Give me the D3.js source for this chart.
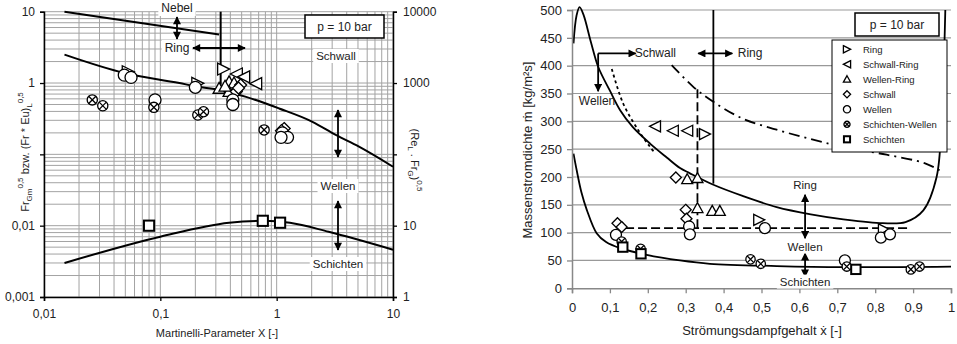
<!DOCTYPE html>
<html>
<head>
<meta charset="utf-8">
<script src="https://cdn.jsdelivr.net/npm/d3@7"></script>
<style>
  body { margin: 0; background: #fff; }
  svg { display: block; font-family: "Liberation Sans", Arial, sans-serif; }
</style>
</head>
<body>
<svg id="vis" width="957" height="344"></svg>
<script>
// ---------- left panel: Martinelli-Parameter X vs. Fr ----------
var leftRing = [[0.053, 1.44], [0.21, 0.99], [0.35, 1.57]];
var leftSchwallRing = [[0.45, 1.34], [0.52, 1.22], [0.66, 0.98]];
var leftWellenRing = [[0.32, 0.84], [0.39, 1.04], [0.43, 1.0], [0.39, 0.76], [0.36, 0.9]];
var leftSchwall = [[0.49, 0.94], [0.45, 0.76], [0.47, 0.85], [1.16, 0.23], [1.1, 0.215]];
var leftWellen = [[0.049, 1.29], [0.056, 1.2], [0.09, 0.58], [0.2, 0.87], [0.42, 0.58], [0.42, 0.5],
  [1.12, 0.2], [1.24, 0.173], [1.09, 0.173]];
var leftSchichtenWellen = [[0.026, 0.58], [0.032, 0.48], [0.088, 0.456], [0.21, 0.356], [0.235, 0.396], [0.78, 0.22]];
var leftSchichten = [[0.08, 0.01], [0.76, 0.0117], [1.07, 0.011]];

var leftNebelLine = [[0.015, 10], [0.32, 4.8]];
var leftRingLine = [[0.33, 10], [0.33, 0.79]];
var leftUpperCurve = [[0.015, 2.5], [0.05, 1.37], [0.146, 1.0], [0.2, 0.9], [0.324, 0.8], [0.546, 0.64],
  [1.05, 0.44], [2.03, 0.286], [3.22, 0.187], [5.1, 0.128], [10, 0.067]];
var leftLowerCurve = [[0.015, 0.003], [0.1, 0.007], [0.39, 0.011], [0.77, 0.0117], [1.3, 0.011],
  [2.8, 0.0082], [10, 0.0046]];

var leftXTicks = [0.01, 0.1, 1, 10];
var leftYTicks = [0.001, 0.01, 0.1, 1, 10];
var leftY2Ticks = [1, 10, 100, 1000, 10000];

// ---------- right panel: Strömungsdampfgehalt vs. Massenstromdichte ----------
var rightRing = [[0.351, 277], [0.494, 123], [0.823, 106]];
var rightSchwallRing = [[0.219, 291], [0.266, 283], [0.304, 283]];
var rightWellenRing = [[0.304, 196], [0.331, 198], [0.331, 144], [0.37, 139], [0.39, 139]];
var rightSchwall = [[0.274, 199], [0.3, 141], [0.302, 125], [0.12, 117], [0.131, 110]];
var rightWellen = [[0.116, 96], [0.309, 111], [0.311, 97], [0.509, 108], [0.72, 50], [0.815, 91], [0.839, 97]];
var rightSchichtenWellen = [[0.131, 84], [0.181, 71], [0.471, 52], [0.498, 44], [0.725, 39], [0.894, 34], [0.917, 39]];
var rightSchichten = [[0.134, 74], [0.182, 62], [0.749, 34]];

var rightUpperCurve = [[0.004, 440], [0.012, 490], [0.02, 505], [0.03, 492], [0.05, 442], [0.069, 398],
  [0.1, 355], [0.127, 320], [0.16, 290], [0.206, 260], [0.25, 235], [0.285, 216], [0.31, 207],
  [0.373, 186], [0.45, 166], [0.54, 146], [0.63, 133], [0.716, 124], [0.82, 117], [0.88, 119],
  [0.927, 140], [0.962, 200], [0.975, 300], [0.985, 500]];
var rightLowerCurve = [[0.004, 242], [0.0124, 212], [0.025, 172], [0.039, 141], [0.065, 99], [0.09, 83],
  [0.127, 72], [0.197, 60], [0.285, 50], [0.364, 44], [0.54, 40], [0.716, 38], [1, 39]];
var rightDotted = [[0.105, 394], [0.135, 332], [0.175, 284], [0.206, 254], [0.22, 242]];
var rightDashDot = [[0.263, 401], [0.32, 362], [0.373, 335], [0.45, 305], [0.54, 285], [0.63, 268],
  [0.716, 254], [0.83, 240], [0.93, 225], [0.97, 212]];
var rightDashedH = [[0.14, 108], [0.89, 108]];
var rightDashedV = [[0.331, 108], [0.331, 362]];
var rightSolidV = [[0.373, 500], [0.373, 188]];

var rightXTicks = d3.range(0, 1.01, 0.1);
var rightYTicks = d3.range(0, 501, 50);

var legendNames = ['Ring', 'Schwall-Ring', 'Wellen-Ring', 'Schwall', 'Wellen', 'Schichten-Wellen', 'Schichten'];
var legendTypes = ['triRight', 'triLeft', 'triUp', 'diamond', 'circle', 'otimes', 'square'];

var svg = d3.select('#vis');

var defs = svg.append('defs');
defs.append('marker')
  .attr('id', 'arrow')
  .attr('viewBox', '0 0 10 10')
  .attr('refX', 9).attr('refY', 5)
  .attr('markerWidth', 9).attr('markerHeight', 8)
  .attr('markerUnits', 'userSpaceOnUse')
  .attr('orient', 'auto-start-reverse')
  .append('path').attr('d', 'M0,0L10,5L0,10z').attr('fill', '#000');

var fmt = function (d) { return String(d).replace('.', ','); };

// draw one marker symbol
function drawMarker(g, type, x, y, h) {
  var m = g.append('g').attr('transform', 'translate(' + x + ',' + y + ')')
    .attr('fill', '#fff').attr('stroke', '#000').attr('stroke-width', 1.3);
  if (type == 'triRight') {
    m.append('path').attr('d', 'M' + (-h) + ',' + (-h) + 'L' + h + ',0L' + (-h) + ',' + h + 'Z');
  } else if (type == 'triLeft') {
    m.append('path').attr('d', 'M' + h + ',' + (-h) + 'L' + (-h) + ',0L' + h + ',' + h + 'Z');
  } else if (type == 'triUp') {
    m.append('path').attr('d', 'M0,' + (-h) + 'L' + h + ',' + (h * 0.8) + 'L' + (-h) + ',' + (h * 0.8) + 'Z');
  } else if (type == 'diamond') {
    m.append('path').attr('d', 'M0,' + (-h) + 'L' + h + ',0L0,' + h + 'L' + (-h) + ',0Z');
  } else if (type == 'circle') {
    m.append('circle').attr('r', h);
  } else if (type == 'otimes') {
    var r = h * 0.85, k = r * 0.7071;
    m.append('circle').attr('r', r);
    m.append('path').attr('d', 'M' + (-k) + ',' + (-k) + 'L' + k + ',' + k + 'M' + k + ',' + (-k) + 'L' + (-k) + ',' + k);
  } else if (type == 'square') {
    var q = h * 0.85;
    m.append('rect').attr('x', -q).attr('y', -q).attr('width', 2 * q).attr('height', 2 * q)
      .attr('stroke-width', 2);
  }
}

// text with a white box behind it
function label(g, x, y, txt, size) {
  var gg = g.append('g');
  var t = gg.append('text').attr('x', x).attr('y', y).attr('text-anchor', 'middle')
    .attr('dominant-baseline', 'central').attr('font-size', size).attr('fill', '#222').text(txt);
  var b = t.node().getBBox();
  gg.insert('rect', 'text').attr('x', b.x - 3).attr('y', b.y - 1)
    .attr('width', b.width + 6).attr('height', b.height + 2).attr('fill', '#fff');
}

function arrow(g, x1, y1, x2, y2, both) {
  var l = g.append('line').attr('x1', x1).attr('y1', y1).attr('x2', x2).attr('y2', y2)
    .attr('stroke', '#000').attr('stroke-width', 1.8).attr('marker-end', 'url(#arrow)');
  if (both) l.attr('marker-start', 'url(#arrow)');
}

function pBox(g, x, y, w, h) {
  g.append('rect').attr('x', x).attr('y', y).attr('width', w).attr('height', h)
    .attr('fill', '#fff').attr('stroke', '#000').attr('stroke-width', 1.5);
  g.append('text').attr('x', x + w / 2).attr('y', y + h / 2).attr('text-anchor', 'middle')
    .attr('dominant-baseline', 'central').attr('font-size', 12).attr('fill', '#222').text('p = 10 bar');
}

// ================= LEFT PANEL =================
var gl = svg.append('g');
var xL = d3.scaleLog().domain([0.01, 10]).range([44, 393]);
var yL = d3.scaleLog().domain([0.001, 10]).range([297, 11.7]);
var yL2 = d3.scaleLog().domain([1, 10000]).range([297, 11.7]);

gl.append('g').selectAll('line.v').data(xL.ticks()).enter().append('line')
  .attr('x1', d => xL(d)).attr('x2', d => xL(d)).attr('y1', yL(0.001)).attr('y2', yL(10))
  .attr('stroke', '#a3a3a3').attr('stroke-width', 1);
gl.append('g').selectAll('line.h').data(yL.ticks()).enter().append('line')
  .attr('x1', xL(0.01)).attr('x2', xL(10)).attr('y1', d => yL(d)).attr('y2', d => yL(d))
  .attr('stroke', '#a3a3a3').attr('stroke-width', 1);

var lineL = d3.line().x(d => xL(d[0])).y(d => yL(d[1])).curve(d3.curveMonotoneX);
var straightL = d3.line().x(d => xL(d[0])).y(d => yL(d[1]));
[leftUpperCurve, leftLowerCurve].forEach(function (c) {
  gl.append('path').attr('d', lineL(c)).attr('fill', 'none').attr('stroke', '#000').attr('stroke-width', 2);
});
[leftNebelLine, leftRingLine].forEach(function (c) {
  gl.append('path').attr('d', straightL(c)).attr('fill', 'none').attr('stroke', '#000').attr('stroke-width', 2);
});

// 0,1 and 100 labels are hidden under the axis titles in the original
var axL = gl.append('g').attr('transform', 'translate(' + xL(0.01) + ',0)')
  .call(d3.axisLeft(yL).tickValues(leftYTicks).tickSize(4).tickPadding(5)
    .tickFormat(d => d === 0.1 ? '' : fmt(d)));
var axB = gl.append('g').attr('transform', 'translate(0,' + yL(0.001) + ')')
  .call(d3.axisBottom(xL).tickValues(leftXTicks).tickSize(4).tickPadding(8).tickFormat(fmt));
var axR = gl.append('g').attr('transform', 'translate(' + xL(10) + ',0)')
  .call(d3.axisRight(yL2).tickValues(leftY2Ticks).tickSize(4).tickPadding(6)
    .tickFormat(d => d === 100 ? '' : fmt(d)));
[axL, axB, axR].forEach(function (a) {
  a.select('.domain').attr('stroke', '#000').attr('stroke-width', 1.5);
  a.selectAll('.tick line').attr('stroke', '#000').attr('stroke-width', 1.3);
  a.selectAll('text').attr('font-size', 12).attr('fill', '#222')
    .attr('font-family', '"Liberation Sans", Arial, sans-serif');
});

var seriesL = [leftRing, leftSchwallRing, leftWellenRing, leftSchwall, leftWellen, leftSchichtenWellen, leftSchichten];
seriesL.forEach(function (s, i) {
  s.forEach(function (d) { drawMarker(gl, legendTypes[i], xL(d[0]), yL(d[1]), 6); });
});

// region labels and arrows
arrow(gl, 177, 17, 177, 39, true);
label(gl, 177, 8, 'Nebel', 12);
label(gl, 177, 48, 'Ring', 12);
arrow(gl, 193, 48, 245, 48, true);
label(gl, 336, 56, 'Schwall', 11.5);
arrow(gl, 338, 110, 338, 157, true);
arrow(gl, 338, 201, 338, 250, true);
label(gl, 338, 186, 'Wellen', 11.5);
label(gl, 338, 264, 'Schichten', 11.5);
pBox(gl, 305, 15, 79, 23);

// axis titles
var tl = gl.append('text').attr('transform', 'translate(29,152) rotate(-90)')
  .attr('text-anchor', 'middle').attr('font-size', 11).attr('fill', '#222');
tl.append('tspan').text('Fr');
tl.append('tspan').attr('font-size', 8).attr('dy', 3).text('Gm');
tl.append('tspan').attr('font-size', 8).attr('dy', -9).text('0,5');
tl.append('tspan').attr('dy', 6).text(' bzw. (Fr * Eu)');
tl.append('tspan').attr('font-size', 8).attr('dy', 3).text('L');
tl.append('tspan').attr('font-size', 8).attr('dy', -9).text('0,5');

var tr = gl.append('text').attr('transform', 'translate(411,160) rotate(90)')
  .attr('text-anchor', 'middle').attr('font-size', 11).attr('fill', '#222');
tr.append('tspan').text('(Re');
tr.append('tspan').attr('font-size', 8).attr('dy', 3).text('L');
tr.append('tspan').attr('dy', -3).text(' . Fr');
tr.append('tspan').attr('font-size', 8).attr('dy', 3).text('G');
tr.append('tspan').attr('dy', -3).text(')');
tr.append('tspan').attr('font-size', 8).attr('dy', -6).text('0,5');

gl.append('text').attr('x', 217).attr('y', 337).attr('text-anchor', 'middle')
  .attr('font-size', 11).attr('fill', '#222').text('Martinelli-Parameter X [-]');

// ================= RIGHT PANEL =================
var gr = svg.append('g');
var xR = d3.scaleLinear().domain([0, 1]).range([572, 951]);
var yR = d3.scaleLinear().domain([0, 500]).range([288.3, 10]);

gr.append('g').selectAll('line').data(rightYTicks.slice(1)).enter().append('line')
  .attr('x1', xR(0)).attr('x2', xR(1)).attr('y1', d => yR(d)).attr('y2', d => yR(d))
  .attr('stroke', '#999').attr('stroke-width', 1.2);

var clip = defs.append('clipPath').attr('id', 'clipR');
clip.append('rect').attr('x', xR(0)).attr('y', 0).attr('width', xR(1) - xR(0)).attr('height', yR(0));

var lineR = d3.line().x(d => xR(d[0])).y(d => yR(d[1])).curve(d3.curveCatmullRom.alpha(0.5));
var straightR = d3.line().x(d => xR(d[0])).y(d => yR(d[1]));
var gc = gr.append('g').attr('clip-path', 'url(#clipR)');
gc.append('path').attr('d', lineR(rightUpperCurve)).attr('fill', 'none').attr('stroke', '#000').attr('stroke-width', 1.8);
gc.append('path').attr('d', lineR(rightLowerCurve)).attr('fill', 'none').attr('stroke', '#000').attr('stroke-width', 1.8);
gc.append('path').attr('d', lineR(rightDotted)).attr('fill', 'none').attr('stroke', '#000').attr('stroke-width', 1.8)
  .attr('stroke-dasharray', '3,3');
gc.append('path').attr('d', lineR(rightDashDot)).attr('fill', 'none').attr('stroke', '#000').attr('stroke-width', 1.8)
  .attr('stroke-dasharray', '11,5,2,5');
[rightDashedH, rightDashedV].forEach(function (c) {
  gc.append('path').attr('d', straightR(c)).attr('fill', 'none').attr('stroke', '#000').attr('stroke-width', 1.8)
    .attr('stroke-dasharray', '9,4');
});
gc.append('path').attr('d', straightR(rightSolidV)).attr('fill', 'none').attr('stroke', '#000').attr('stroke-width', 1.8);

var axRL = gr.append('g').attr('transform', 'translate(' + xR(0) + ',0)')
  .call(d3.axisLeft(yR).tickValues(rightYTicks).tickSize(5).tickPadding(5));
var axRB = gr.append('g').attr('transform', 'translate(0,' + yR(0) + ')')
  .call(d3.axisBottom(xR).tickValues(rightXTicks).tickSize(5).tickPadding(9).tickFormat(d => fmt(+d.toFixed(1))));
[axRL, axRB].forEach(function (a) {
  a.select('.domain').attr('stroke', '#888').attr('stroke-width', 1.5);
  a.selectAll('.tick line').attr('stroke', '#888').attr('stroke-width', 1.3);
  a.selectAll('text').attr('font-size', 13).attr('fill', '#222')
    .attr('font-family', '"Liberation Sans", Arial, sans-serif');
});

var seriesR = [rightRing, rightSchwallRing, rightWellenRing, rightSchwall, rightWellen, rightSchichtenWellen, rightSchichten];
seriesR.forEach(function (s, i) {
  s.forEach(function (d) { drawMarker(gr, legendTypes[i], xR(d[0]), yR(d[1]), 5.5); });
});

// region arrows and labels
arrow(gr, xR(0.069), yR(422), xR(0.168), yR(422), false);
arrow(gr, xR(0.069), yR(422), xR(0.069), yR(354), false);
gr.append('text').attr('x', xR(0.22)).attr('y', yR(422)).attr('text-anchor', 'middle')
  .attr('dominant-baseline', 'central').attr('font-size', 12).attr('fill', '#222').text('Schwall');
gr.append('text').attr('x', xR(0.066)).attr('y', yR(336)).attr('text-anchor', 'middle')
  .attr('dominant-baseline', 'central').attr('font-size', 12).attr('fill', '#222').text('Wellen');
arrow(gr, xR(0.333), yR(422), xR(0.423), yR(422), true);
gr.append('text').attr('x', xR(0.47)).attr('y', yR(422)).attr('text-anchor', 'middle')
  .attr('dominant-baseline', 'central').attr('font-size', 12).attr('fill', '#222').text('Ring');
arrow(gr, xR(0.615), yR(168), xR(0.615), yR(90), true);
arrow(gr, xR(0.615), yR(63), xR(0.615), yR(21), true);
label(gr, xR(0.615), yR(185), 'Ring', 11.5);
label(gr, xR(0.615), yR(75), 'Wellen', 11.5);
label(gr, xR(0.615), yR(12), 'Schichten', 11.5);

// legend
var lg = gr.append('g');
lg.append('rect').attr('x', 832).attr('y', 40).attr('width', 115).attr('height', 112)
  .attr('fill', '#fff').attr('stroke', '#000').attr('stroke-width', 1);
legendNames.forEach(function (n, i) {
  var yy = 49.3 + i * 15;
  drawMarker(lg, legendTypes[i], 847, yy, 3.6);
  lg.append('text').attr('x', 863).attr('y', yy).attr('dominant-baseline', 'central')
    .attr('font-size', 9.5).attr('fill', '#222').text(n);
});
pBox(gr, 855, 13, 84, 23);

// axis titles
gr.append('text').attr('transform', 'translate(532,150) rotate(-90)').attr('text-anchor', 'middle')
  .attr('font-size', 13).attr('fill', '#222').text('Massenstromdichte ṁ [kg/m²s]');
gr.append('text').attr('x', 762).attr('y', 335).attr('text-anchor', 'middle')
  .attr('font-size', 13).attr('fill', '#222').text('Strömungsdampfgehalt ẋ [-]');
</script>
</body>
</html>
